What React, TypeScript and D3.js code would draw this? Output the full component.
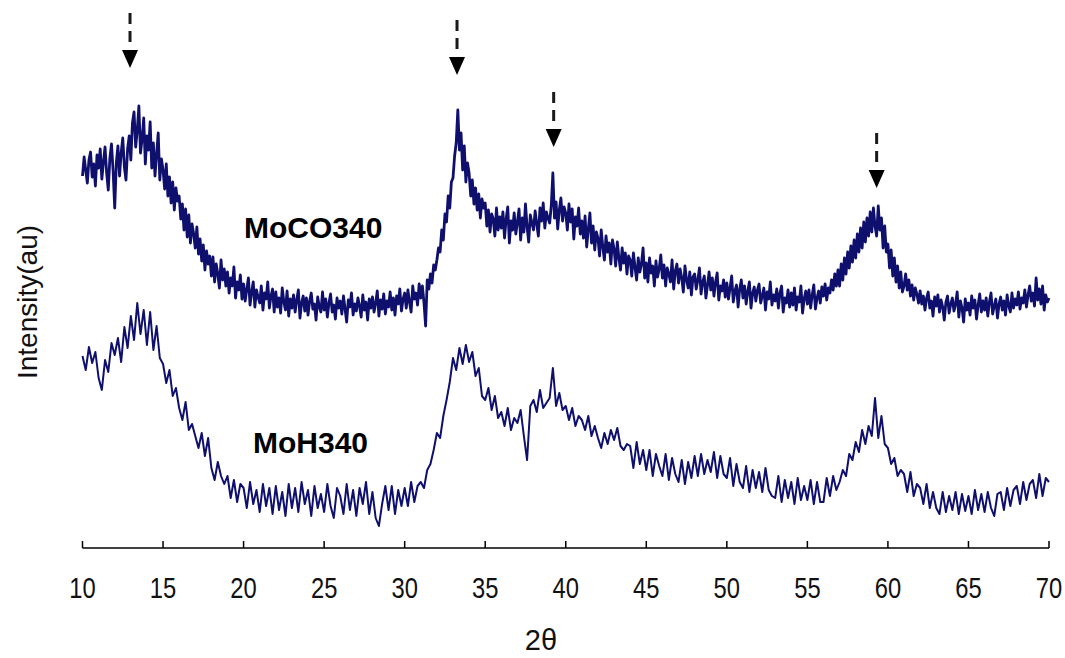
import React from 'react';
import * as d3 from 'd3';

const X_TICKS = [10, 15, 20, 25, 30, 35, 40, 45, 50, 55, 60, 65, 70];
const X_LABEL = '2θ';
const Y_LABEL = 'Intensity(au)';
const SERIES_NAMES = ['MoCO340', 'MoH340'];

// MoCO340: 2θ from 10 to 70, step 0.1
const MOCO_START = 10;
const MOCO_STEP = 0.1;
const MOCO340 = [
  372, 391, 378, 365, 388, 396, 371, 384, 362, 393,
  380, 399, 369, 386, 401, 375, 358, 390, 404, 377,
  340, 385, 402, 372, 395, 410, 381, 368, 399, 412,
  388, 425, 436, 401, 418, 442, 395, 409, 430, 384,
  412, 398, 426, 380, 405, 372, 394, 415, 368, 389,
  378, 359, 384, 352, 371, 345, 366, 338, 360, 347,
  352, 329, 344, 318, 339, 311, 333, 305, 324, 314,
  300, 321, 294, 309, 287, 303, 278, 297, 284, 292,
  272, 291, 266, 284, 274, 260, 288, 268, 279, 262,
  276, 255, 270, 262, 281, 250, 266, 258, 273, 249,
  264, 247, 259, 270, 243, 256, 266, 241, 258, 251,
  245, 262, 238, 255, 249, 266, 240, 252, 259, 236,
  256, 241, 250, 235, 260, 246, 238, 257, 232, 249,
  240, 253, 236, 248, 258, 230, 245, 252, 237, 250,
  233, 247, 255, 239, 244, 228, 251, 241, 236, 256,
  238, 249, 231, 245, 254, 236, 243, 229, 250, 240,
  247, 234, 252, 239, 226, 248, 241, 255, 233, 244,
  237, 250, 242, 231, 253, 238, 246, 228, 249, 240,
  251, 236, 245, 257, 232, 248, 239, 254, 234, 247,
  241, 256, 238, 250, 233, 252, 244, 259, 237, 249,
  255, 240, 258, 246, 236, 262, 249, 255, 243, 264,
  250, 262, 245, 222, 268, 259, 274, 265, 283, 278,
  288, 300, 296, 318, 308, 334, 326, 352, 340, 366,
  370, 392, 405, 438, 398, 415, 378, 402, 366, 385,
  375, 352, 368, 344, 360, 338, 354, 330, 349, 340,
  345, 322, 338, 316, 334, 329, 312, 340, 318, 331,
  320, 336, 310, 329, 341, 305, 327, 318, 335, 314,
  326, 339, 308, 330, 316, 344, 321, 306, 333, 325,
  318, 337, 324, 312, 340, 327, 345, 320, 336, 330,
  325, 342, 375, 330, 346, 319, 338, 350, 327, 341,
  335, 318, 344, 326, 339, 309, 331, 322, 340, 314,
  327, 310, 332, 301, 319, 335, 305, 322, 298, 316,
  310, 292, 318, 301, 288, 312, 296, 305, 284, 308,
  299, 282, 306, 290, 278, 300, 285, 295, 274, 292,
  288, 272, 295, 281, 268, 290, 276, 284, 300, 270,
  285, 266, 290, 275, 282, 262, 287, 271, 279, 293,
  270, 283, 262, 280, 274, 266, 288, 259, 277, 284,
  265, 279, 270, 256, 282, 268, 260, 276, 253, 271,
  274, 259, 268, 280, 254, 266, 272, 250, 263, 276,
  258, 270, 252, 266, 275, 248, 262, 257, 268, 251,
  265, 249, 260, 272, 246, 257, 263, 241, 259, 268,
  250, 262, 244, 257, 266, 240, 255, 261, 247, 258,
  264, 245, 252, 260, 238, 256, 249, 266, 243, 253,
  247, 259, 240, 255, 262, 236, 250, 245, 258, 241,
  255, 243, 260, 238, 251, 246, 262, 235, 249, 257,
  244, 258, 240, 253, 263, 239, 250, 257, 245, 261,
  252, 264, 248, 260, 255, 268, 258, 274, 262, 278,
  262, 284, 268, 290, 274, 296, 280, 302, 286, 308,
  290, 314, 296, 320, 300, 326, 306, 330, 312, 336,
  316, 340, 322, 312, 342, 318, 330, 300, 322, 296,
  304, 280, 298, 272, 290, 266, 282, 260, 276, 256,
  262, 274, 258, 268, 252, 263, 248, 260, 254, 245,
  257, 244, 252, 238, 250, 256, 240, 247, 232, 251,
  242, 253, 236, 248, 241, 228, 246, 252, 235, 244,
  250, 237, 244, 256, 231, 247, 240, 226, 249, 238,
  245, 233, 252, 240, 248, 229, 243, 254, 236, 247,
  238, 250, 232, 246, 255, 234, 242, 249, 230, 244,
  251, 238, 247, 233, 253, 242, 236, 255, 240, 249,
  243, 256, 239, 250, 245, 258, 241, 253, 262, 247,
  255, 242, 270, 248, 259, 244, 262, 238, 253, 246,
  250,
];

// MoH340: 2θ from 10 to 70, step 0.2
const MOH_START = 10;
const MOH_STEP = 0.2;
const MOH340 = [
  192, 178, 201, 185, 196,
  170, 158, 188, 176, 205,
  193, 210, 186, 221, 200,
  232, 208, 245, 214, 238,
  203, 236, 198, 222, 190,
  184, 165, 178, 152, 160,
  140, 128, 146, 118, 124,
  112, 100, 115, 92, 110,
  80, 68, 86, 72, 64,
  72, 50, 68, 46, 64,
  60, 40, 66, 44, 58,
  36, 64, 42, 60, 34,
  62, 38, 56, 32, 64,
  40, 60, 36, 66, 44,
  58, 32, 62, 40, 54,
  36, 64, 42, 30, 60,
  52, 34, 64, 38, 58,
  32, 60, 44, 66, 34,
  56, 30, 22, 44, 62,
  38, 62, 34, 58, 42,
  60, 42, 66, 46, 62,
  66, 60, 78, 84, 98,
  115, 110, 132, 148, 166,
  190, 178, 200, 184, 203,
  186, 196, 172, 180, 152,
  148, 160, 138, 152, 130,
  136, 122, 140, 118, 130,
  125, 138, 112, 88, 142,
  148, 136, 158, 140, 145,
  150, 180, 142, 155, 138,
  142, 128, 140, 122, 132,
  128, 118, 132, 112, 122,
  110, 100, 115, 104, 118,
  108, 120, 102, 98, 104,
  102, 80, 106, 84, 98,
  78, 98, 72, 94, 82,
  72, 94, 68, 90, 74,
  66, 88, 64, 86, 70,
  92, 72, 94, 74, 88,
  76, 96, 70, 92, 74,
  70, 90, 62, 84, 66,
  60, 82, 56, 78, 60,
  76, 56, 80, 58, 52,
  50, 72, 46, 68, 50,
  66, 44, 70, 48, 62,
  48, 68, 44, 66, 46,
  46, 70, 52, 72, 58,
  66, 78, 72, 94, 88,
  106, 96, 118, 104, 122,
  112, 150, 110, 132, 104,
  100, 84, 90, 72, 78,
  74, 56, 76, 52, 64,
  60, 44, 64, 40, 56,
  40, 34, 56, 36, 52,
  38, 56, 34, 54, 37,
  52, 34, 58, 38, 54,
  36, 56, 40, 32, 54,
  56, 38, 60, 42, 58,
  62, 44, 66, 48, 64,
  68, 50, 74, 52, 70,
  66,
];

// peak markers: 2θ position and arrow-tip intensity
const ARROW_ANGLES = [12.95, 33.25, 39.25, 59.3];
const ARROW_TIPS = [480, 473, 401, 360];

export default function App() {
  const W = 1065;
  const H = 658;
  const x = d3.scaleLinear().domain([10, 70]).range([82.5, 1049]);
  const y = d3.scaleLinear().domain([0, 450]).range([548, 98]);
  const axisY = 548;

  const lineFor = (start: number, step: number) =>
    d3
      .line<number>()
      .x((_, i) => x(start + i * step))
      .y((d) => y(d));

  const upperPath = lineFor(MOCO_START, MOCO_STEP)(MOCO340) || '';
  const lowerPath = lineFor(MOH_START, MOH_STEP)(MOH340) || '';
  const navy = '#0f0f6e';

  return (
    <svg
      width={W}
      height={H}
      style={{ position: 'absolute', left: 0, top: 0, background: '#fff' }}
      fontFamily="'Liberation Sans', Arial, sans-serif"
    >
      <rect x={0} y={0} width={W} height={H} fill="#fff" />
      <path d={upperPath} fill="none" stroke={navy} strokeWidth={2.8} strokeLinejoin="round" />
      <path d={lowerPath} fill="none" stroke={navy} strokeWidth={2} strokeLinejoin="round" />

      {/* axis */}
      <line x1={x(10)} x2={x(70)} y1={axisY} y2={axisY} stroke="#000" strokeWidth={1.5} />
      {X_TICKS.map((t) => (
        <g key={t}>
          <line x1={x(t)} x2={x(t)} y1={axisY} y2={axisY - 7} stroke="#000" strokeWidth={1.5} />
          <text
            transform={`translate(${x(t)},598) scale(0.82,1)`}
            textAnchor="middle"
            fontSize={29}
            fill="#111"
          >
            {t}
          </text>
        </g>
      ))}
      <text x={541} y={650} textAnchor="middle" fontSize={29} fill="#111">
        {X_LABEL}
      </text>
      <text
        transform="translate(37,302) rotate(-90)"
        textAnchor="middle"
        fontSize={28}
        fill="#111"
      >
        {Y_LABEL}
      </text>

      {/* series labels */}
      <text x={244} y={238} fontSize={30} fontWeight="bold" fill="#000">
        {SERIES_NAMES[0]}
      </text>
      <text x={253} y={453} fontSize={30} fontWeight="bold" fill="#000">
        {SERIES_NAMES[1]}
      </text>

      {/* peak arrows */}
      {ARROW_ANGLES.map((a, i) => {
        const ax = x(a);
        const tip = y(ARROW_TIPS[i]);
        return (
          <g key={a}>
            <line
              x1={ax}
              x2={ax}
              y1={tip - 55}
              y2={tip - 25}
              stroke="#1a1a1a"
              strokeWidth={3}
              strokeDasharray="11,7"
            />
            <path
              d={`M${ax - 8},${tip - 18} L${ax + 8},${tip - 18} L${ax},${tip} Z`}
              fill="#000"
            />
          </g>
        );
      })}
    </svg>
  );
}
